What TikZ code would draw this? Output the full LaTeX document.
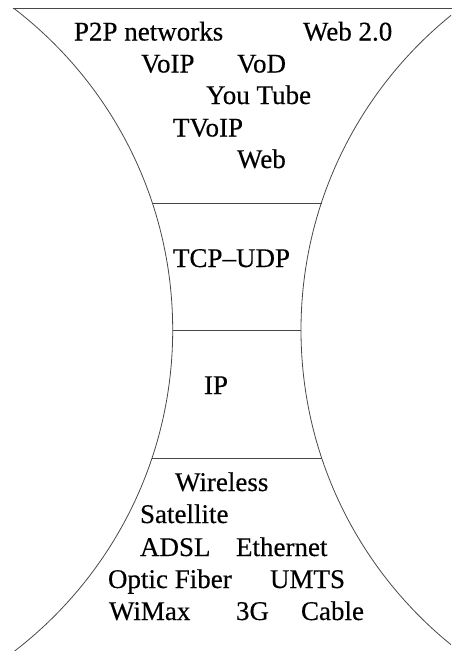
\documentclass[tikz,border=0pt]{standalone}
\usepackage{fontspec}
\setmainfont[FakeBold=0.35,AutoFakeBold=0.35]{Liberation Serif}
\begin{document}
\begin{tikzpicture}[x=1pt,y=-1pt,
  wall/.style={line width=0.8pt,draw=black!72},
  lbl/.style={anchor=base west,inner sep=0pt,outer sep=0pt,
    font=\fontsize{27}{30}\selectfont\bfseries,text=black}]
\useasboundingbox (0,0) rectangle (451,651);

% the two concave sides of the hourglass
\begin{scope}
  \clip (0,8.3) rectangle (451,651);
  \draw[wall] (-232.3,330) circle (405pt);
  \draw[wall] (706,330) circle (405pt);
\end{scope}

% top rim and layer boundaries
\draw[wall] (13.3,8.3) -- (455,8.3);
\draw[wall] (152.4,203.3) -- (321.5,203.3);
\draw[wall] (172.7,330) -- (301,330);
\draw[wall] (152.4,458.3) -- (321.5,458.3);

% applications
\node[lbl] (p2p)   at (74,40.5)  {P2P networks};
\node[lbl] (web2)  at (303,40.5) {Web 2.0};
\node[lbl] (voip)  at (141,72.5) {VoIP};
\node[lbl] (vod)   at (237,72.5) {VoD};
\node[lbl] (yt)    at (206,104)  {You Tube};
\node[lbl] (tvoip) at (173,136.5) {TVoIP};
\node[lbl] (web)   at (237,168)  {Web};

% transport and network layers
\node[lbl] (tcp)   at (173,267)  {TCP–UDP};
\node[lbl] (ip)    at (204,394)  {IP};

% access technologies
\node[lbl] (wl)    at (175,491)  {Wireless};
\node[lbl] (sat)   at (140,523)  {Satellite};
\node[lbl] (adsl)  at (140,556)  {ADSL};
\node[lbl] (eth)   at (236,556)  {Ethernet};
\node[lbl] (opt)   at (108,588)  {Optic Fiber};
\node[lbl] (umts)  at (270,588)  {UMTS};
\node[lbl] (wimax) at (109,620)  {WiMax};
\node[lbl] (g3)    at (236,620)  {3G};
\node[lbl] (cable) at (301,620)  {Cable};
\end{tikzpicture}
\end{document}
